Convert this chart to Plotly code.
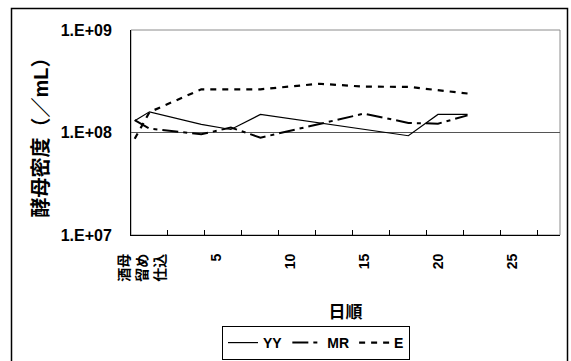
import plotly.graph_objects as go

# category positions (half-day steps) and yeast counts per mL
yy_x = [0, 2, 9, 13, 17, 37, 41, 45]
yy_y = [1.30e8, 1.59e8, 1.20e8, 1.07e8, 1.50e8, 0.93e8, 1.50e8, 1.50e8]

mr_x = [0, 2, 9, 13, 17, 31, 37, 41, 45]
mr_y = [1.32e8, 1.09e8, 0.96e8, 1.12e8, 0.89e8, 1.53e8, 1.24e8, 1.22e8, 1.47e8]

e_x = [0, 2, 9, 13, 17, 25, 31, 37, 45]
e_y = [0.87e8, 1.58e8, 2.64e8, 2.62e8, 2.64e8, 2.99e8, 2.80e8, 2.79e8, 2.40e8]

x_tick_pos = [0, 10, 20, 30, 40, 50]
x_tick_text = ["酒母<br>留め<br>仕込", "5", "10", "15", "20", "25"]
x_mark_pos = [4.5, 9.5, 14.5, 19.5, 24.5, 29.5, 34.5, 39.5, 44.5, 49.5, 54.5]
y_tick_vals = [1e7, 1e8, 1e9]
y_tick_text = ["1.E+07", "1.E+08", "1.E+09"]

FONT = "Liberation Sans, Arial, Noto Sans CJK JP, sans-serif"
W, H = 571, 361
L, R, T, B = 131, 560, 30, 235
X_RANGE = [-0.5, 57.5]

fig = go.Figure()
fig.add_trace(go.Scatter(x=yy_x, y=yy_y, name="YY", mode="lines",
                         line=dict(color="black", width=1.2)))
fig.add_trace(go.Scatter(x=mr_x, y=mr_y, name="MR", mode="lines",
                         line=dict(color="black", width=2, dash="16px,5px,4px,5px")))
fig.add_trace(go.Scatter(x=e_x, y=e_y, name="E", mode="lines",
                         line=dict(color="black", width=2.2, dash="6px,6px")))
# invisible trace carrying the category label axis
fig.add_trace(go.Scatter(x=[X_RANGE[0]], y=[1e8], xaxis="x2", mode="markers",
                         marker=dict(opacity=0), showlegend=False,
                         hoverinfo="skip"))

pw = R - L
ph = B - T

def px_x(p):
    return (p - L) / pw

def px_y(p):
    return (B - p) / ph

fig.update_layout(
    width=W, height=H,
    margin=dict(l=L, r=W - R, t=T, b=H - B, pad=0, autoexpand=False),
    paper_bgcolor="white", plot_bgcolor="white",
    font=dict(family=FONT, color="black"),
    showlegend=True,
    legend=dict(orientation="h", x=px_x(316), xanchor="center",
                y=px_y(326), yanchor="top",
                bordercolor="black", borderwidth=1, bgcolor="white",
                font=dict(size=14, weight="bold", family=FONT),
                itemwidth=30, tracegroupgap=0),
    xaxis=dict(
        range=X_RANGE, showgrid=False, zeroline=False,
        showline=True, linecolor="black", linewidth=1,
        tickmode="array", tickvals=x_mark_pos,
        ticktext=[""] * len(x_mark_pos),
        ticks="inside", ticklen=5, tickcolor="black", tickwidth=1,
        title=dict(text="日順", font=dict(size=17, weight="bold", family=FONT),
                   standoff=68),
    ),
    xaxis2=dict(
        range=X_RANGE, overlaying="x", side="bottom", anchor="y",
        showgrid=False, zeroline=False, showline=False,
        tickmode="array", tickvals=x_tick_pos, ticktext=x_tick_text,
        ticks="", tickangle=-90, ticklabelshift=8, ticklabelstandoff=15,
        tickfont=dict(size=14, weight="bold", family=FONT),
    ),
    yaxis=dict(
        type="log", range=[7, 9], zeroline=False,
        showline=True, linecolor="black", linewidth=1,
        tickmode="array", tickvals=y_tick_vals, ticktext=y_tick_text,
        ticks="", ticklabelstandoff=15,
        tickfont=dict(size=16, weight="bold", family=FONT),
        showgrid=True, gridcolor="#555555", gridwidth=1,
        title=dict(text="酵母密度（／mL）",
                   font=dict(size=20, weight="bold", family=FONT),
                   standoff=6),
    ),
    shapes=[
        # plot area frame (grey top/right edges)
        dict(type="rect", xref="paper", yref="paper", x0=0, x1=1, y0=0, y1=1,
             line=dict(color="#8c8c8c", width=1), layer="below"),
        # chart area border
        dict(type="rect", xref="paper", yref="paper",
             x0=px_x(11.5), x1=px_x(567.5), y0=px_y(372), y1=px_y(8.5),
             line=dict(color="black", width=1.5), fillcolor="rgba(0,0,0,0)",
             layer="above"),
    ],
)

fig.write_html("out.html")
